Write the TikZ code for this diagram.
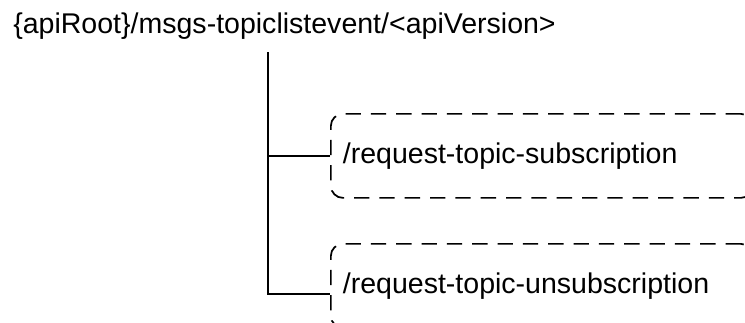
\documentclass[tikz,border=0pt]{standalone}
\usepackage{fontspec}
\setmainfont{Liberation Sans}
\usepackage{tikz}
\usetikzlibrary{calc,positioning}
\definecolor{bg}{HTML}{FFFFFF}
\definecolor{ink}{HTML}{000000}
\tikzset{
  tree/.style={draw=ink, line width=1.3pt, line cap=butt},
  dashbox/.style={draw=ink, line width=1.3pt, dash pattern=on 11.5pt off 7.5pt, rounded corners=9pt,
    minimum width=316.5pt, minimum height=63pt, inner xsep=9pt, inner ysep=0pt,
    text width=298.5pt, align=left, font=\fontsize{21.4}{25}\selectfont, text=ink},
  lab/.style={text=ink, inner sep=0pt, font=\fontsize{21.4}{25}\selectfont},
}
\begin{document}
\begin{tikzpicture}[x=0.75pt, y=-0.75pt]
\useasboundingbox (0,0) rectangle (745,322);
\fill[bg] (0,0) rectangle (745,322);
\clip (0,0) rectangle (745,322);
\node[lab, anchor=base west] (root) at (13,33) {\{apiRoot\}/msgs-topiclistevent/<apiVersion>};
\coordinate (trunk) at (268,52);
\node[dashbox, anchor=north west] (sub) at (330,113) {/request-topic-subscription};
\node[dashbox, anchor=north west] (unsub) at (330,243) {/request-topic-unsubscription};
\draw[tree] (trunk) |- ([yshift=-6pt]unsub.west);
\draw[tree] (trunk |- sub.west) -- (sub.west);
\end{tikzpicture}
\end{document}
